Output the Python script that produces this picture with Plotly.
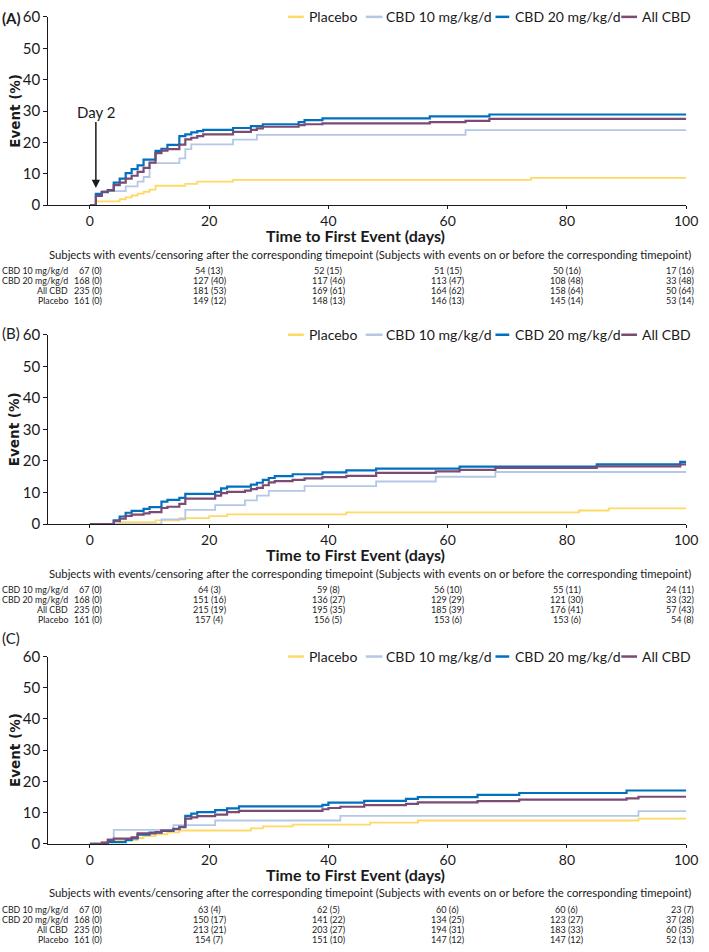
import plotly.graph_objects as go

W, H = 709, 952
FONT = "Lato, Open Sans, sans-serif"
INK = "#1a1a1a"

# ---------------- data ----------------
series_names = ["Placebo", "CBD 10 mg/kg/d", "CBD 20 mg/kg/d", "All CBD"]
series_colors = ["#FFD966", "#B4C7E7", "#0070C0", "#7B4B74"]
series_widths = [1.8, 1.8, 2.2, 2.2]

x_ticks = [0, 20, 40, 60, 80, 100]
y_ticks = [0, 10, 20, 30, 40, 50, 60]
table_rows = ["CBD 10 mg/kg/d", "CBD 20 mg/kg/d", "All CBD", "Placebo"]
table_header = ("Subjects with events/censoring after the corresponding timepoint "
                "(Subjects with events on or before the corresponding timepoint)")
panel_labels = ["(A)", "(B)", "(C)"]
x_title = "Time to First Event (days)"
y_title = "Event (%)"

# Panel A: cumulative event % (step times in days)
A_t_placebo = [0, 1, 5, 6, 7, 8, 9, 10, 11, 16, 18, 24, 74, 100]
A_y_placebo = [0, 1.2, 1.9, 2.5, 3.1, 3.7, 4.3, 5.0, 6.2, 6.8, 7.5, 8.1, 8.7, 8.7]
A_t_cbd10 = [0, 1, 2, 6, 8, 9, 10, 15, 16, 17, 24, 28, 63, 100]
A_y_cbd10 = [0, 3.0, 4.5, 6.0, 7.5, 9.0, 13.4, 14.9, 17.9, 19.4, 20.9, 22.4, 23.9, 23.9]
A_t_cbd20 = [0, 1, 2, 3, 4, 5, 6, 7, 8, 9, 11, 12, 13, 15, 16, 17, 18, 19, 24, 27, 29, 35, 36, 39, 57, 67, 100]
A_y_cbd20 = [0, 3.6, 4.2, 4.8, 7.2, 8.5, 10.2, 11.5, 12.7, 14.5, 17.3, 18.0, 19.2, 22.0, 22.6, 23.2, 23.6, 24.0,
             24.6, 25.2, 25.8, 26.5, 27.1, 27.7, 28.3, 28.9, 28.9]
A_t_all = [0, 1, 2, 3, 4, 5, 6, 7, 8, 9, 10, 11, 12, 13, 15, 16, 17, 18, 19, 24, 27, 28, 29, 35, 36, 39, 57, 63, 67, 100]
A_y_all = [0, 3.0, 4.3, 4.7, 6.4, 7.2, 8.5, 9.4, 10.6, 11.9, 13.6, 16.6, 17.4, 17.9, 19.3, 21.0, 21.5, 22.0, 22.6,
           23.4, 24.0, 24.5, 25.0, 25.5, 25.8, 26.1, 26.5, 26.9, 27.5, 27.5]

# Panel B
B_t_placebo = [0, 5, 11, 15, 20, 23, 43, 82, 87, 100]
B_y_placebo = [0, 0.6, 1.2, 1.9, 2.5, 3.1, 3.7, 4.3, 5.0, 5.0]
B_t_cbd10 = [0, 12, 16, 21, 26, 28, 30, 36, 48, 58, 68, 100]
B_y_cbd10 = [0, 1.5, 4.5, 6.0, 7.5, 9.0, 10.5, 12.0, 13.5, 15.0, 16.5, 16.5]
B_t_cbd20 = [0, 4, 5, 6, 7, 9, 10, 12, 13, 15, 16, 21, 22, 23, 27, 28, 29, 30, 31, 34, 39, 43, 48, 62, 85, 99, 100]
B_y_cbd20 = [0, 1.2, 2.4, 3.6, 4.2, 4.8, 5.4, 7.1, 7.7, 8.3, 9.6, 10.2, 11.3, 11.9, 12.5, 13.1, 14.0, 14.6, 15.2,
             15.8, 16.4, 17.0, 17.6, 18.2, 18.9, 19.7, 19.7]
B_t_all = [0, 4, 5, 6, 7, 9, 10, 12, 13, 15, 16, 21, 22, 23, 26, 27, 28, 29, 30, 31, 34, 36, 39, 43, 48, 58, 62, 68,
           85, 99, 100]
B_y_all = [0, 0.9, 1.7, 2.6, 3.0, 3.4, 3.8, 5.1, 5.5, 6.4, 8.1, 9.0, 9.8, 10.2, 10.6, 11.1, 11.5, 12.3, 13.2, 13.6,
           14.0, 14.5, 14.9, 15.3, 16.2, 16.7, 17.2, 17.8, 18.3, 18.9, 18.9]

# Panel C
C_t_placebo = [0, 2, 3, 8, 9, 11, 13, 15, 27, 29, 34, 47, 55, 92, 100]
C_y_placebo = [0, 0.6, 1.2, 1.9, 2.5, 3.1, 3.7, 4.3, 5.0, 5.6, 6.2, 6.8, 7.5, 8.1, 8.1]
C_t_cbd10 = [0, 3, 4, 14, 21, 42, 92, 100]
C_y_cbd10 = [0, 1.5, 4.5, 6.0, 7.5, 9.0, 10.5, 10.5]
C_t_cbd20 = [0, 3, 6, 7, 8, 10, 12, 14, 15, 16, 17, 18, 21, 23, 25, 39, 40, 46, 53, 55, 65, 72, 90, 100]
C_y_cbd20 = [0, 0.6, 1.2, 1.8, 3.0, 3.6, 4.2, 4.8, 5.4, 9.0, 9.7, 10.2, 10.8, 11.4, 12.0, 12.5, 13.2, 13.8, 14.4,
             15.0, 15.7, 16.3, 17.1, 17.1]
C_t_all = [0, 2, 3, 4, 7, 8, 11, 12, 14, 15, 16, 17, 18, 21, 23, 25, 39, 40, 42, 46, 53, 55, 65, 72, 90, 92, 100]
C_y_all = [0, 0.4, 1.3, 1.7, 2.1, 3.4, 3.8, 4.3, 4.7, 5.5, 8.1, 8.5, 8.9, 9.4, 10.2, 10.6, 11.1, 11.5, 11.9, 12.4,
           12.8, 13.3, 13.7, 14.2, 14.6, 15.1, 15.1]

# Numbers at risk (events) per table row: CBD 10, CBD 20, All CBD, Placebo
A_at_risk = [[67, 54, 52, 51, 50, 17], [168, 127, 117, 113, 108, 33],
             [235, 181, 169, 164, 158, 50], [161, 149, 148, 146, 145, 53]]
A_events = [[0, 13, 15, 15, 16, 16], [0, 40, 46, 47, 48, 48],
            [0, 53, 61, 62, 64, 64], [0, 12, 13, 13, 14, 14]]
B_at_risk = [[67, 64, 59, 56, 55, 24], [168, 151, 136, 129, 121, 33],
             [235, 215, 195, 185, 176, 57], [161, 157, 156, 153, 153, 54]]
B_events = [[0, 3, 8, 10, 11, 11], [0, 16, 27, 29, 30, 32],
            [0, 19, 35, 39, 41, 43], [0, 4, 5, 6, 6, 8]]
C_at_risk = [[67, 63, 62, 60, 60, 23], [168, 150, 141, 134, 123, 37],
             [235, 213, 203, 194, 183, 60], [161, 154, 151, 147, 147, 52]]
C_events = [[0, 4, 5, 6, 6, 7], [0, 17, 22, 25, 27, 28],
            [0, 21, 27, 31, 33, 35], [0, 7, 10, 12, 12, 13]]

panels = [
    dict(curves=[(A_t_placebo, A_y_placebo), (A_t_cbd10, A_y_cbd10), (A_t_cbd20, A_y_cbd20), (A_t_all, A_y_all)],
         at_risk=A_at_risk, events=A_events),
    dict(curves=[(B_t_placebo, B_y_placebo), (B_t_cbd10, B_y_cbd10), (B_t_cbd20, B_y_cbd20), (B_t_all, B_y_all)],
         at_risk=B_at_risk, events=B_events),
    dict(curves=[(C_t_placebo, C_y_placebo), (C_t_cbd10, C_y_cbd10), (C_t_cbd20, C_y_cbd20), (C_t_all, C_y_all)],
         at_risk=C_at_risk, events=C_events),
]

# ---------------- geometry (pixels) ----------------
geom = [
    dict(top=7, bottom=199, label_y=8, legend_y=7),
    dict(top=331, bottom=524, label_y=329, legend_y=331),
    dict(top=659, bottom=850, label_y=640, legend_y=659),
]
PLOT_L, PLOT_R = 49, 698


def fx(p):
    return p / W


def fy(p):
    return 1 - p / H


fig = go.Figure()
annotations = []
shapes = []

for i, (pan, g) in enumerate(zip(panels, geom)):
    sfx = "" if i == 0 else str(i + 1)
    xa, ya = "x" + sfx, "y" + sfx
    for (t, y), name, col, lw in zip(pan["curves"], series_names, series_colors, series_widths):
        fig.add_trace(go.Scatter(x=t, y=y, mode="lines", line=dict(color=col, width=lw, shape="hv"),
                                 name=name, showlegend=False, xaxis=xa, yaxis=ya,
                                 hovertemplate=name + ": %{y:.1f}%<extra></extra>"))
    axis_common = dict(showline=True, linecolor=INK, linewidth=1, ticks="outside", ticklen=4,
                       tickcolor=INK, tickwidth=1, showgrid=False, zeroline=False,
                       ticklabeloverflow="allow",
                       tickfont=dict(family=FONT, size=15, color=INK))
    fig.layout["xaxis" + sfx] = dict(axis_common, domain=[fx(PLOT_L), fx(PLOT_R)], range=[-7, 100],
                                     tickvals=x_ticks, anchor=ya, ticklen=3,
                                     tickfont=dict(family=FONT, size=14, color=INK))
    fig.layout["yaxis" + sfx] = dict(axis_common, domain=[fy(g["bottom"]), fy(g["top"])], range=[0, 60],
                                     tickvals=y_ticks, anchor=xa)

    # panel label
    annotations.append(dict(text=panel_labels[i] if i else "<b>" + panel_labels[i] + "</b>",
                            x=fx(0), y=fy(g["label_y"]), xref="paper", yref="paper",
                            xanchor="left", yanchor="middle", showarrow=False,
                            font=dict(family=FONT, size=15, color=INK)))
    # y title
    annotations.append(dict(text="<b>" + y_title + "</b>", textangle=-90,
                            x=fx(15), y=fy((g["top"] + g["bottom"]) / 2), xref="paper", yref="paper",
                            xanchor="center", yanchor="middle", showarrow=False,
                            font=dict(family="DejaVu Sans, sans-serif", size=13.5, color=INK)))
    # x title
    annotations.append(dict(text="<b>" + x_title + "</b>", x=fx(362), y=fy(g["bottom"] + 31),
                            xref="paper", yref="paper", xanchor="center", yanchor="middle",
                            showarrow=False, font=dict(family=FONT, size=16, color=INK)))
    # table header
    annotations.append(dict(text=table_header, x=fx(376), y=fy(g["bottom"] + 50),
                            xref="paper", yref="paper", xanchor="center", yanchor="middle",
                            showarrow=False, font=dict(family=FONT, size=11.3, color=INK)))
    # table rows
    for r, rname in enumerate(table_rows):
        ry = fy(g["bottom"] + 67 + 10 * r)
        annotations.append(dict(text=rname, x=fx(70), y=ry, xref="paper", yref="paper",
                                xanchor="right", yanchor="middle", showarrow=False, borderpad=0,
                                font=dict(family=FONT, size=8.8, color=INK)))
        for c, tv in enumerate(x_ticks):
            txt = "%d (%d)" % (pan["at_risk"][r][c], pan["events"][r][c])
            if c == 0:
                a = dict(x=fx(105), xref="paper", xanchor="right")
            elif c == len(x_ticks) - 1:
                a = dict(x=fx(707), xref="paper", xanchor="right")
            else:
                a = dict(x=tv, xref=xa, xanchor="center")
            annotations.append(dict(a, text=txt, y=ry, yref="paper", yanchor="middle", showarrow=False,
                                    borderpad=0, font=dict(family=FONT, size=9, color=INK)))
    # legend (manual)
    leg_lines = [(293, 309), (372, 389), (504, 518), (632, 648)]
    leg_text_x = [312, 391, 522, 651]
    ly = fy(g["legend_y"])
    for (x0, x1), tx, name, col in zip(leg_lines, leg_text_x, series_names, series_colors):
        shapes.append(dict(type="line", xref="paper", yref="paper", x0=fx(x0), x1=fx(x1), y0=ly, y1=ly,
                           line=dict(color=col, width=2.5)))
        annotations.append(dict(text=name, x=fx(tx), y=ly, xref="paper", yref="paper",
                                xanchor="left", yanchor="middle", showarrow=False,
                                font=dict(family=FONT, size=14, color=INK)))

# Day 2 arrow (panel A)
annotations.append(dict(text="", x=1, y=5.5, ax=1, ay=27.0, xref="x", yref="y", axref="x", ayref="y",
                        showarrow=True, arrowhead=2, arrowsize=1.1, arrowwidth=1.5, arrowcolor=INK))
annotations.append(dict(text="Day 2", x=1, y=29.8, xref="x", yref="y", xanchor="center", yanchor="middle",
                        showarrow=False, font=dict(family=FONT, size=15, color=INK)))

fig.update_layout(width=W, height=H, margin=dict(l=0, r=0, t=0, b=0), paper_bgcolor="white",
                  plot_bgcolor="white", annotations=annotations, shapes=shapes, showlegend=False,
                  font=dict(family=FONT, color=INK))

fig.write_html("out.html", config={"displayModeBar": False},
               post_script="document.body.style.margin='0px';document.body.style.overflow='hidden';")
